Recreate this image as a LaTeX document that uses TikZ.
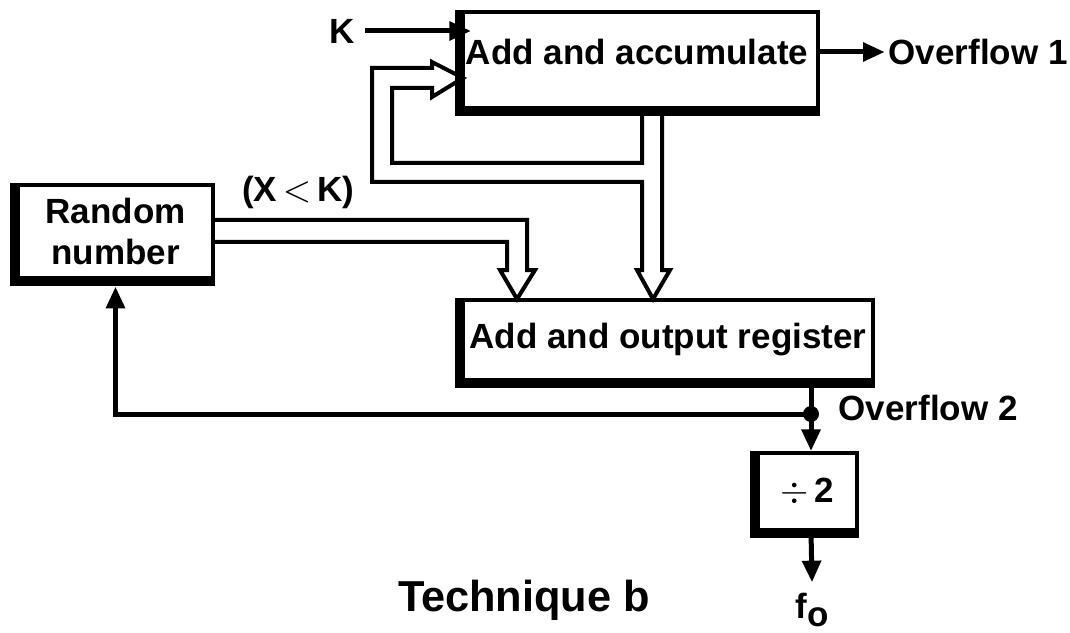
\documentclass[tikz,border=0pt]{standalone}
\usepackage{fontspec}
\setmainfont{Liberation Sans}
\usetikzlibrary{positioning, arrows.meta}
\newcommand{\boxedge}[1]{%
  \draw[line width=2.4pt, line cap=square] ([xshift=-0.6pt]#1.north west) -- ([xshift=-0.6pt, yshift=-0.6pt]#1.south west) -- ([yshift=-0.6pt]#1.south east);
}

\begin{document}
\begin{tikzpicture}[x=0.3pt, y=-0.3pt,
  blk/.style={draw, line width=1.2pt, fill=white, inner sep=0pt},
  lbl/.style={font=\fontsize{10.5}{12.5}\selectfont\bfseries, inner sep=0pt},
  sig/.style={line width=1.5pt, -{Triangle[length=6.5pt, width=5.5pt]}},
  bus/.style={line width=1.2pt, line join=miter}]
  \useasboundingbox (0,0) rectangle (1070,633);
  % blocks
  \node[blk, minimum width=106.5pt, minimum height=28.8pt] (acc) at (640.5,60) {};
  \node[blk, minimum width=123pt, minimum height=24pt, lbl] (reg) at (668,340) {Add and output register};
  \node[blk, minimum width=58.5pt, minimum height=27.9pt, lbl, align=center] (rnd) at (115.5,231.5) {Random\\number};
  \node[blk, minimum width=29.7pt, minimum height=23.1pt, lbl] (div) at (807.5,491.5) {$\div$\,2};
  \boxedge{acc}
  \boxedge{reg}
  \boxedge{rnd}
  \boxedge{div}
  \node[lbl] (acctxt) at (637,52) {Add and accumulate};
  % labels
  \node[lbl] (k) at (342,31) {K};
  \node[lbl, anchor=west] (ov1) at (888,52) {Overflow 1};
  \node[lbl, anchor=west] (ov2) at (838,408) {Overflow 2};
  \node[lbl] (xk) at (298,192) {(X\,$<$\,K)};
  \node[lbl, inner ysep=3pt] (fo) at (812,610) {f\raisebox{-0.45ex}{o}};
  \node[font=\fontsize{13}{15}\selectfont\bfseries, inner sep=0pt] (tech) at (524,600) {Technique b};
  % single lines
  \draw[sig] ([xshift=3pt]k.east) -- ([xshift=3pt]k.east -| acc.west);
  \draw[sig] (ov1.west -| acc.east) -- ([xshift=-1pt]ov1.west);
  \coordinate (j) at (811,414);
  \draw[line width=1.5pt] (reg.south -| j) -- (j);
  \fill (j) circle (2.4pt);
  \draw[sig] (j) -- (j |- div.north);
  \draw[sig] (j) -- (j -| rnd.south) -- ([yshift=-2pt]rnd.south);
  \draw[sig] (div.south -| j) -- (fo.north);
  % hollow buses
  \draw[bus] (642,108) -- (642,163) -- (392,163) -- (392,88) -- (432,88) -- (432,97)
    -- (463,78) -- (432,62) -- (432,68) -- (372,68) -- (372,182) -- (642,182)
    -- (642,270) -- (637,270) -- (653,299) -- (670,270) -- (662,270) -- (662,108);
  \draw[bus] (213,220) -- (527,220) -- (527,270) -- (535,270) -- (517,299) -- (500,270)
    -- (507,270) -- (507,242) -- (213,242);
\end{tikzpicture}
\end{document}
